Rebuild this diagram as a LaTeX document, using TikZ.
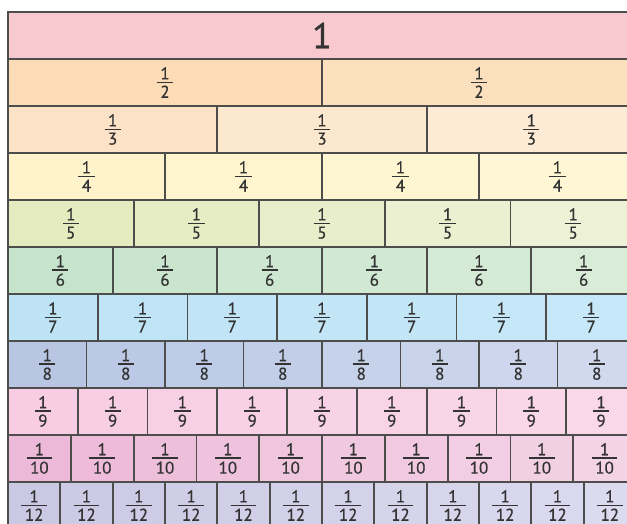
\documentclass[tikz,border=0pt]{standalone}
\usepackage{fontspec}
\setmainfont{PT Sans}
\newfontfamily\numfont{PT Sans}[FakeBold=0.7]
\definecolor{linec}{HTML}{4D4D4B}
\definecolor{txt}{HTML}{333333}
\definecolor{aL}{HTML}{F8C9CE}\definecolor{aR}{HTML}{F8C9CE}
\definecolor{bL}{HTML}{FCDCB6}\definecolor{bR}{HTML}{FCE0BE}
\definecolor{cL}{HTML}{FCE3C8}\definecolor{cR}{HTML}{FDEBD6}
\definecolor{dL}{HTML}{FEF3CB}\definecolor{dR}{HTML}{FEF6D4}
\definecolor{eL}{HTML}{E4EBBE}\definecolor{eR}{HTML}{EDF2D6}
\definecolor{fL}{HTML}{C6E3CB}\definecolor{fR}{HTML}{D8ECD8}
\definecolor{gL}{HTML}{BEE3F5}\definecolor{gR}{HTML}{C6E8F8}
\definecolor{hL}{HTML}{B8C6E4}\definecolor{hR}{HTML}{D0D9EE}
\definecolor{iL}{HTML}{F8CDE3}\definecolor{iR}{HTML}{F9D8EA}
\definecolor{jL}{HTML}{EDB9D8}\definecolor{jR}{HTML}{F3D3E6}
\definecolor{kL}{HTML}{CBC8E4}\definecolor{kR}{HTML}{DCDAEF}
\newcommand\fr[1]{\setbox0=\hbox{#1}\dimen0=\wd0 \advance\dimen0 by 7pt\vbox{\offinterlineskip\halign{\hfil##\hfil\cr 1\cr\noalign{\kern2.2pt}\vrule width\dimen0 height1.7pt depth0pt\cr\noalign{\kern2.4pt}#1\cr}}}
\tikzset{cell/.style={draw=linec, line width=1.8pt, inner sep=0pt, text=txt, font=\numfont\fontsize{17}{19}\selectfont}}
\begin{document}
\begin{tikzpicture}[x=1pt,y=-1pt]
\useasboundingbox (0,0) rectangle (627,524);
\fill[white] (0,0) rectangle (627,524);
\clip (0,0) rectangle (627,524);
\foreach \n/\r [count=\i from 0] in {1/a,2/b,3/c,4/d,5/e,6/f,7/g,8/h,9/i,10/j,12/k} {
  \pgfmathsetmacro\w{628/\n}
  \pgfmathtruncatemacro\last{\n-1}
  \foreach \k in {0,...,\last} {
    \ifnum\n=1 \def\p{100}\else\pgfmathtruncatemacro\p{100-100*\k/(\n-1)}\fi
    \node[cell, fill=\r L!\p!\r R, minimum width=\w pt, minimum height=47pt] (cell-\n-\k) at ({8+(\k+0.5)*\w}, {12+(\i+0.5)*47}) {\ifnum\n=1 {\fontsize{36}{38}\selectfont 1}\else\fr{\n}\fi};
  }
}
\end{tikzpicture}
\end{document}
